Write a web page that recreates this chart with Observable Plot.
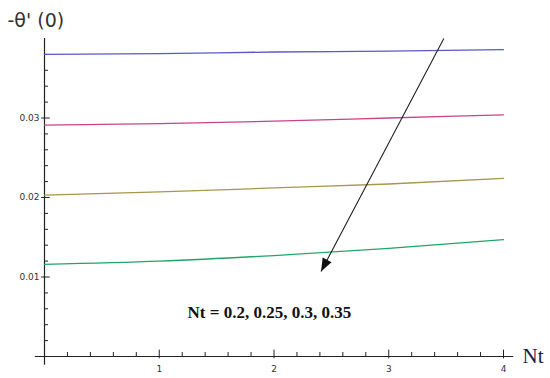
<!DOCTYPE html>
<html><head><meta charset="utf-8">
<script src="https://cdn.jsdelivr.net/npm/d3@7"></script>
<script src="https://cdn.jsdelivr.net/npm/@observablehq/plot@0.6"></script>
<style>body{margin:0;background:#fff}</style>
</head><body><div id="chart"></div>
<script>
// x values (Nt axis)
const nt = [0, 1, 2, 3, 4];
// curves, top to bottom (Nt = 0.2, 0.25, 0.3, 0.35)
const seriesNames = ["Nt = 0.2", "Nt = 0.25", "Nt = 0.3", "Nt = 0.35"];
const curve1 = [0.0380, 0.0381, 0.0383, 0.0384, 0.0386];
const curve2 = [0.0291, 0.0293, 0.0296, 0.0300, 0.0304];
const curve3 = [0.0203, 0.0207, 0.0212, 0.0217, 0.0224];
const curve4 = [0.0116, 0.0120, 0.0127, 0.0136, 0.0147];
const seriesColors = ["#5a5ac4", "#c8448a", "#a8964a", "#22a468"];

// ticks
const xMajor = [1, 2, 3, 4];
const xMinor = [0.2, 0.4, 0.6, 0.8, 1.2, 1.4, 1.6, 1.8, 2.2, 2.4, 2.6, 2.8, 3.2, 3.4, 3.6, 3.8];
const yMajor = [0.01, 0.02, 0.03];
const yMinor = [0.002, 0.004, 0.006, 0.008, 0.012, 0.014, 0.016, 0.018, 0.022, 0.024, 0.026, 0.028, 0.032, 0.034, 0.036, 0.038];
const yTickLabels = ["0.01", "0.02", "0.03"];
const xTickLabels = ["1", "2", "3", "4"];

// annotation
const arrowFrom = {x: 3.48, y: 0.0400};
const arrowTo = {x: 2.41, y: 0.0107};
const annotation = {x: 1.96, y: 0.0055, text: "Nt = 0.2, 0.25, 0.3, 0.35"};
const yLabel = "-θ' (0)";
const xLabel = "Nt";

const curves = [curve1, curve2, curve3, curve4];
const rows = [];
curves.forEach((c, i) => c.forEach((v, j) => rows.push({series: seriesNames[i], x: nt[j], y: v})));

const chart = Plot.plot({
  width: 550,
  height: 378,
  marginLeft: 44,
  marginRight: 47,
  marginTop: 38,
  marginBottom: 22,
  x: {domain: [0, 4], axis: null},
  y: {domain: [0, 0.04], axis: null},
  color: {domain: seriesNames, range: seriesColors},
  style: {fontFamily: "DejaVu Sans, sans-serif", background: "#fff"},
  marks: [
    // axes lines
    Plot.ruleY([0], {x1: -0.08, x2: 4.09, stroke: "#222", strokeWidth: 1.2}),
    Plot.ruleX([0], {y1: -0.0011, y2: 0.04, stroke: "#222", strokeWidth: 1.2}),
    // x ticks
    Plot.ruleX(xMajor, {y1: -0.0003, y2: 0.0008, stroke: "#222"}),
    Plot.ruleX(xMinor, {y1: 0, y2: 0.0005, stroke: "#222"}),
    // y ticks
    Plot.ruleY(yMajor, {x1: -0.025, x2: 0.05, stroke: "#222"}),
    Plot.ruleY(yMinor, {x1: 0, x2: 0.035, stroke: "#222"}),
    // tick labels
    Plot.text(xMajor, {x: d => d, y: 0, text: (d, i) => xTickLabels[i], dy: 13, fontSize: 9, fill: "#333"}),
    Plot.text(yMajor, {x: 0, y: d => d, text: (d, i) => yTickLabels[i], dx: -5, textAnchor: "end", fontSize: 9, fill: "#333"}),
    // curves
    Plot.line(rows, {x: "x", y: "y", z: "series", stroke: "series", strokeWidth: 1.3, curve: "monotone-x"}),
    // arrow
    Plot.link([arrowFrom], {x1: d => d.x, y1: d => d.y, x2: () => arrowTo.x, y2: () => arrowTo.y, stroke: "#222", strokeWidth: 1.1, markerEnd: "arrow"}),
    Plot.text([annotation], {x: "x", y: "y", text: "text", fontFamily: "Liberation Serif, serif", fontWeight: "bold", fontSize: 17, fill: "#111"}),
    // axis labels
    Plot.text([yLabel], {frameAnchor: "top-left", text: d => d, dx: -37, dy: -18, textAnchor: "start", lineAnchor: "middle", fontSize: 19, fill: "#333", letterSpacing: 2}),
    Plot.text([xLabel], {frameAnchor: "bottom-right", text: d => d, dx: 19, dy: 0, textAnchor: "start", lineAnchor: "middle", fontFamily: "Liberation Serif, serif", fontSize: 21, fill: "#1c1c4c"})
  ]
});

// filled arrow head
chart.querySelectorAll("marker").forEach(m => {
  m.setAttribute("markerUnits", "userSpaceOnUse");
  m.setAttribute("viewBox", "-14 -7 14 14");
  m.setAttribute("markerWidth", 14);
  m.setAttribute("markerHeight", 14);
  m.setAttribute("fill", "#111");
  m.setAttribute("stroke", "none");
  m.innerHTML = "";
  const p = document.createElementNS("http://www.w3.org/2000/svg", "path");
  p.setAttribute("d", "M-13,-5L0,0L-13,5Z");
  m.appendChild(p);
});

document.getElementById("chart").appendChild(chart);
</script>
</body></html>
